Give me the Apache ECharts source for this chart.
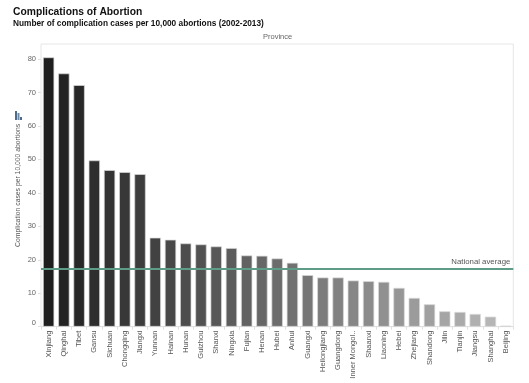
<!DOCTYPE html>
<html><head><meta charset="utf-8">
<style>html,body{margin:0;padding:0;background:#fff}#c{width:529px;height:383px}</style>
<script src="https://cdn.jsdelivr.net/npm/echarts@6/dist/echarts.min.js"></script>
</head><body><div id="c"></div>
<script>
const provinces = ['Xinjiang','Qinghai','Tibet','Gansu','Sichuan','Chongqing','Jiangxi','Yunnan','Hainan','Hunan','Guizhou','Shanxi','Ningxia','Fujian','Henan','Hubei','Anhui','Guangxi','Heilongjiang','Guangdong','Inner Mongol..','Shaanxi','Liaoning','Hebei','Zhejiang','Shandong','Jilin','Tianjin','Jiangsu','Shanghai','Beijing'];
const cases = [80.5,75.7,72.2,49.7,46.8,46.2,45.6,26.6,26.0,24.9,24.6,24.0,23.5,21.3,21.2,20.4,19.1,15.4,14.7,14.7,13.8,13.6,13.4,11.6,8.6,6.7,4.6,4.4,3.8,3.0,0.3];
const nationalAverage = 17.4;
const titleText = 'Complications of Abortion';
const subtitleText = 'Number of complication cases per 10,000 abortions (2002-2013)';
const yAxisTitle = 'Complication cases per 10,000 abortions';
const FONT = '"Liberation Sans", Arial, sans-serif';
const shade = i => { const v = Math.round(30 + (186 - 30) * i / (provinces.length - 1)); return `rgb(${v},${v},${v})`; };
const chart = echarts.init(document.getElementById('c'), null, {renderer:'canvas'});
chart.setOption({
  animation:false,
  backgroundColor:'#fff',
  title:[
    {text:titleText,left:13,top:7,padding:0,textStyle:{fontFamily:FONT,fontSize:10.3,fontWeight:'bold',color:'#111'}},
    {text:subtitleText,left:13,top:19.5,padding:0,textStyle:{fontFamily:FONT,fontSize:8.3,fontWeight:'bold',color:'#111'}},
    {text:'Province',left:263,top:32.5,padding:0,textStyle:{fontFamily:FONT,fontSize:7.5,fontWeight:'normal',color:'#666'}}
  ],
  grid:{left:41,right:15.7,top:44,bottom:56.3,show:true,borderColor:'#e6e6e6',borderWidth:1,backgroundColor:'transparent',outerBoundsMode:'none'},
  xAxis:{type:'category',data:provinces,
    axisLine:{show:true,lineStyle:{color:'#e0e0e0'}},
    axisTick:{show:true,alignWithLabel:false,length:3,lineStyle:{color:'#e0e0e0'}},
    axisLabel:{rotate:90,interval:0,fontFamily:FONT,fontSize:7.5,color:'#555',margin:4,align:'right',verticalAlign:'middle'},
    splitLine:{show:false}},
  yAxis:{type:'value',min:0,max:84.5,interval:10,
    name:yAxisTitle,nameLocation:'middle',nameGap:19.5,nameRotate:90,nameMoveOverlap:false,
    nameTextStyle:{fontFamily:FONT,fontSize:6.8,color:'#555'},
    axisLine:{show:false},
    axisTick:{show:true,length:3,lineStyle:{color:'#e0e0e0'}},
    axisLabel:{showMaxLabel:false,verticalAlignMinLabel:'bottom',fontFamily:FONT,fontSize:7.5,color:'#666',margin:5},
    splitLine:{show:false}},
  series:[{type:'bar',barWidth:'74%',
    data:cases.map((v,i)=>({value:v,itemStyle:{color:shade(i),borderColor:'#d9d9d9',borderWidth:0.7}})),
    markLine:{silent:true,symbol:'none',z:10,
      data:[{yAxis:nationalAverage}],
      lineStyle:{color:'#5f9c88',width:2,type:'solid'},
      label:{show:true,position:'insideEndTop',formatter:'National average',fontFamily:FONT,fontSize:7.8,color:'#555',distance:3}}
  }],
  graphic:[
    {type:'rect',shape:{x:15,y:111,width:2,height:9},style:{fill:'#4e6d8c'}},
    {type:'rect',shape:{x:17.5,y:113,width:2,height:7},style:{fill:'#6f8aa6'}},
    {type:'rect',shape:{x:20,y:117,width:2,height:3},style:{fill:'#4e6d8c'}}
  ]
});
</script></body></html>
